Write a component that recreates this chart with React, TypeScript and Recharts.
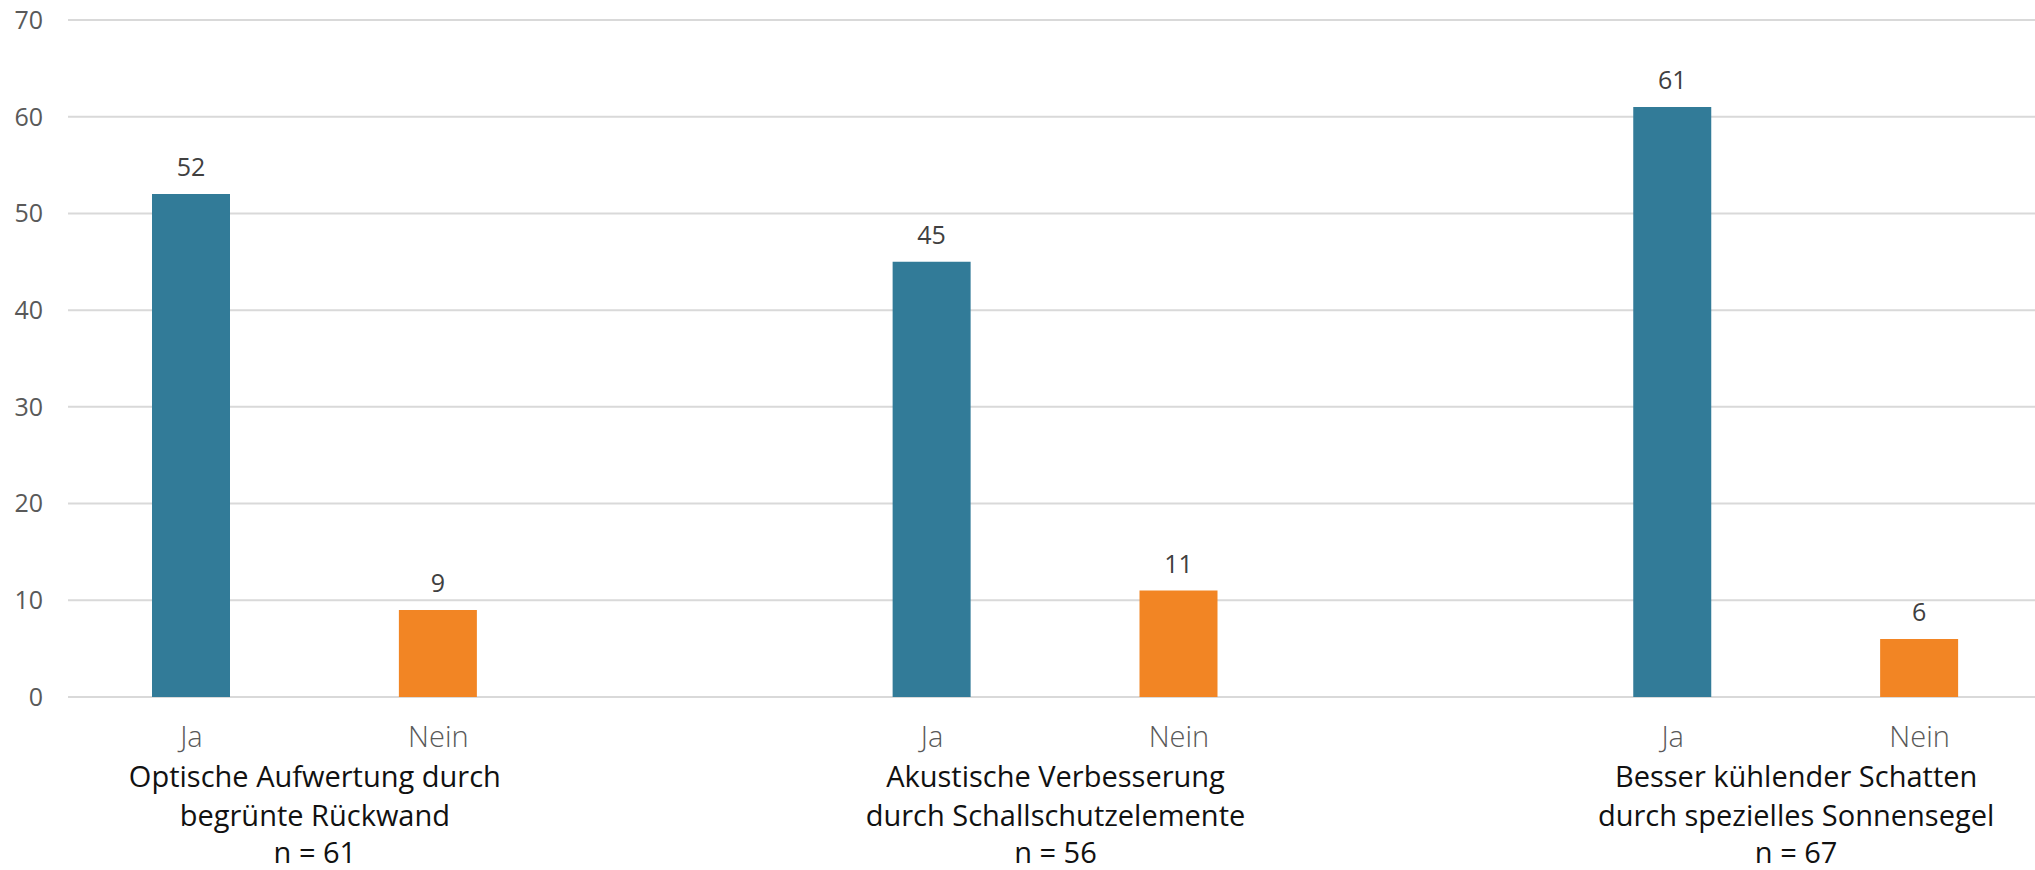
import React from 'react';
import { BarChart, Bar, XAxis, YAxis, CartesianGrid, Cell, LabelList } from 'recharts';

const answerLabels = ['Ja', 'Nein'];
const groupTitles = [
  ['Optische Aufwertung durch', 'begrünte Rückwand'],
  ['Akustische Verbesserung', 'durch Schallschutzelemente'],
  ['Besser kühlender Schatten', 'durch spezielles Sonnensegel'],
];
const sampleSizes = [61, 56, 67];
const jaValues = [52, 45, 61];
const neinValues = [9, 11, 6];
const yTicks = [0, 10, 20, 30, 40, 50, 60, 70];

const COLORS: Record<string, string> = { ja: '#327B98', nein: '#F28524' };

type Row = { key: string; label: string; value: number | null; group: number; kind: string };

const rows: Row[] = [];
groupTitles.forEach((_, g) => {
  rows.push({ key: `g${g}-ja`, label: answerLabels[0], value: jaValues[g], group: g, kind: 'ja' });
  rows.push({ key: `g${g}-nein`, label: answerLabels[1], value: neinValues[g], group: g, kind: 'nein' });
  if (g < groupTitles.length - 1) {
    rows.push({ key: `g${g}-gap`, label: '', value: null, group: g, kind: 'gap' });
  }
});

const FONT = '"Open Sans", "Noto Sans", sans-serif';

const XTick = (props: any) => {
  const { x, y, payload } = props;
  const row = rows[payload.index];
  if (!row || row.kind === 'gap') return null;
  const half = payload.offset ?? 123;
  return (
    <g>
      <text x={x} y={y + 50} textAnchor="middle" fontFamily={FONT} fontSize={29} fontWeight={300} fill="#595959">
        {row.label}
      </text>
      {row.kind === 'ja' && (
        <text x={x + half} textAnchor="middle" fontFamily={FONT} fontSize={29} fontWeight={400} fill="#111111">
          <tspan x={x + half} y={y + 90}>{groupTitles[row.group][0]}</tspan>
          <tspan x={x + half} y={y + 129}>{groupTitles[row.group][1]}</tspan>
          <tspan x={x + half} y={y + 166}>{`n = ${sampleSizes[row.group]}`}</tspan>
        </text>
      )}
    </g>
  );
};

export default function App() {
  return (
    <div style={{ width: 2043, height: 870, background: '#fff' }}>
      <style>{'body{margin:0;overflow:hidden;background:#fff}'}</style>
      <BarChart
        width={2043}
        height={870}
        data={rows}
        margin={{ top: 20, right: 0, bottom: 0, left: 0 }}
        barCategoryGap={0}
      >
        <CartesianGrid vertical={false} stroke="#D9D9D9" strokeWidth={2} />
        <XAxis
          dataKey="key"
          interval={0}
          axisLine={false}
          tickLine={false}
          tickSize={0}
          tickMargin={0}
          height={173}
          tick={<XTick />}
        />
        <YAxis
          domain={[0, 70]}
          ticks={yTicks}
          width={68}
          axisLine={false}
          tickLine={false}
          tickSize={0}
          tickMargin={25}
          tick={{ fontFamily: FONT, fontSize: 25, fill: '#595959' }}
          interval={0}
        />
        <Bar dataKey="value" barSize={78} isAnimationActive={false}>
          {rows.map((r) => (
            <Cell key={r.key} fill={COLORS[r.kind] || 'transparent'} />
          ))}
          <LabelList
            dataKey="value"
            position="top"
            offset={18}
            fontFamily={FONT}
            fontSize={25}
            fill="#404040"
          />
        </Bar>
      </BarChart>
    </div>
  );
}
